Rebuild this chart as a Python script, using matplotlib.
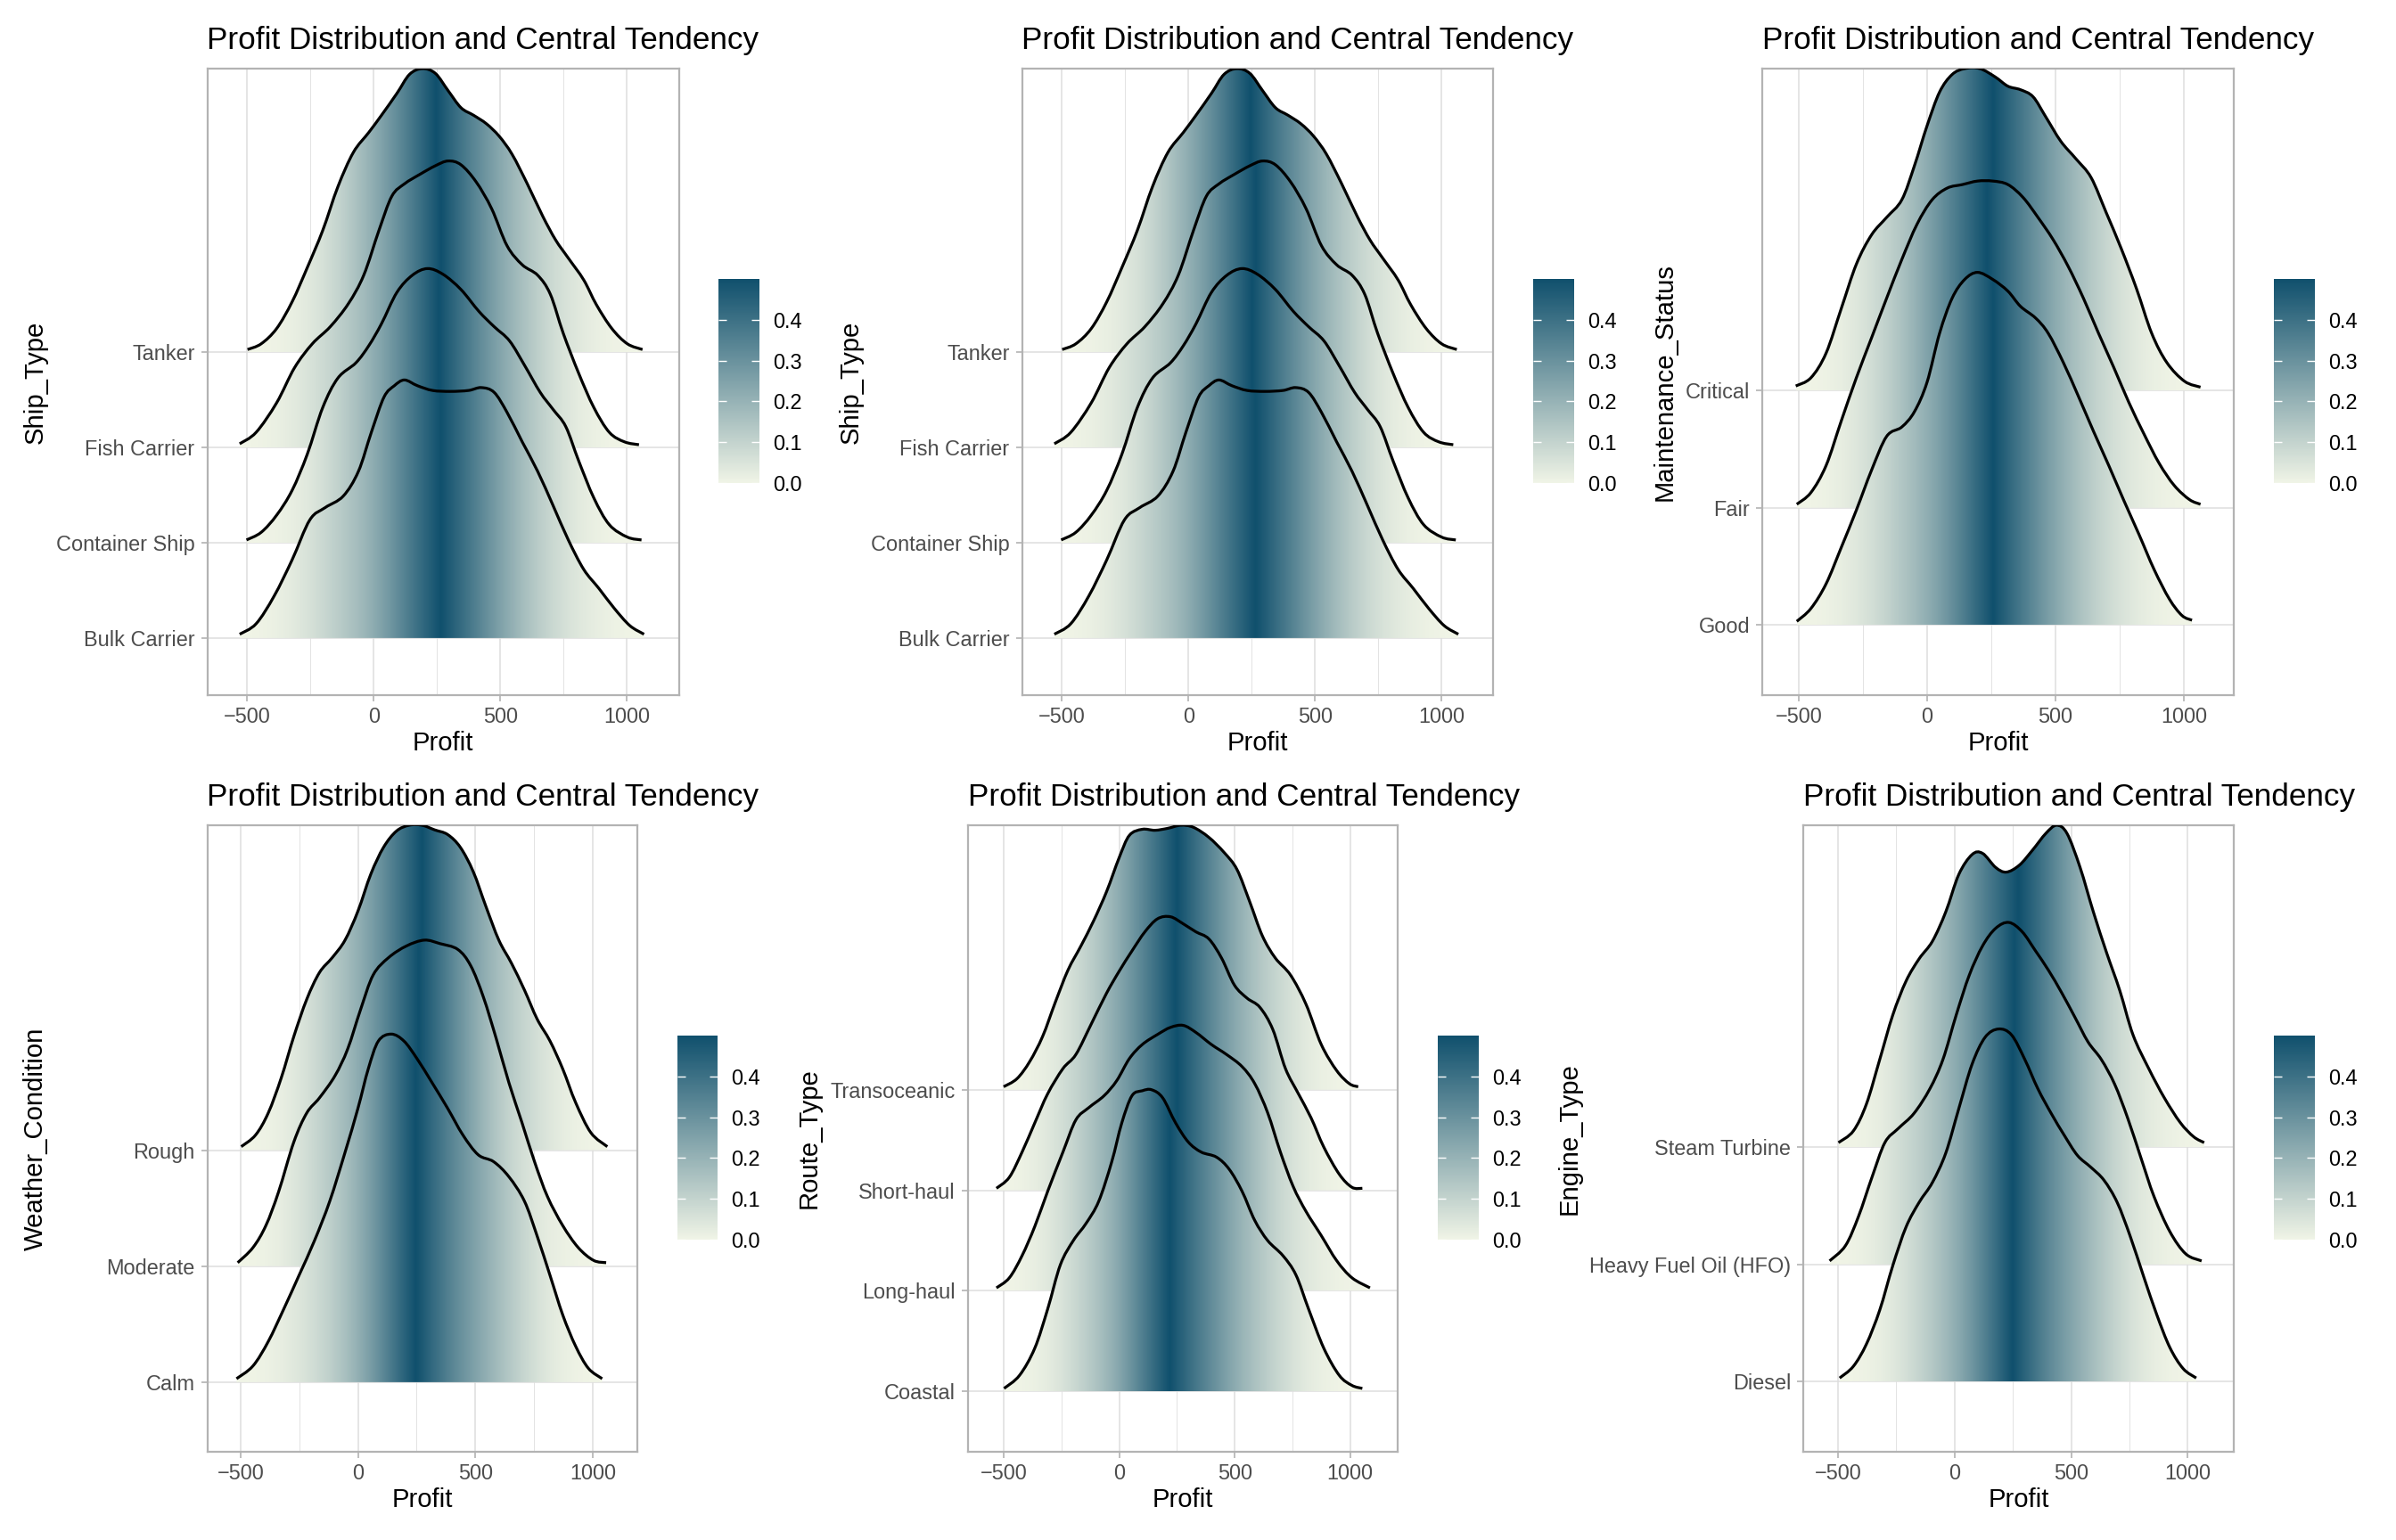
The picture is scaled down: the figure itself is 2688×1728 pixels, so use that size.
import numpy as np
import matplotlib
matplotlib.use("Agg")
import matplotlib.pyplot as plt
from matplotlib.path import Path
from matplotlib.patches import PathPatch
from matplotlib.colors import LinearSegmentedColormap, Normalize
from matplotlib.cm import ScalarMappable
from matplotlib.ticker import FormatStrFormatter

plt.rcParams["font.family"] = ["Liberation Sans", "DejaVu Sans"]

# ---- densities (profit, ridge height in row units) ----
ship_types = ["Bulk Carrier", "Container Ship", "Fish Carrier", "Tanker"]
ship_x = [
    [-530, -465, -394, -323, -253, -192, -121, -61, -10, 40, 81, 121, 172, 232, 303, 374, 424, 475, 526, 586, 647, 708, 768, 829, 889, 950, 1011, 1067],
    [-503, -445, -384, -323, -263, -202, -142, -71, -20, 30, 91, 152, 212, 273, 344, 415, 475, 536, 596, 657, 708, 758, 809, 869, 930, 1001, 1057],
    [-530, -465, -384, -313, -243, -172, -101, -40, 20, 71, 121, 182, 243, 293, 344, 404, 465, 526, 586, 647, 697, 748, 809, 869, 930, 990, 1047],
    [-499, -445, -384, -323, -263, -202, -142, -81, -20, 30, 91, 141, 192, 243, 293, 344, 394, 445, 495, 546, 606, 667, 718, 768, 829, 879, 940, 1001, 1061],
]
ship_h = [
    [0.04, 0.15, 0.44, 0.82, 1.24, 1.37, 1.49, 1.75, 2.16, 2.53, 2.65, 2.71, 2.65, 2.60, 2.59, 2.60, 2.63, 2.58, 2.37, 2.06, 1.75, 1.39, 1.03, 0.72, 0.52, 0.31, 0.13, 0.04],
    [0.03, 0.11, 0.29, 0.55, 0.93, 1.42, 1.73, 1.89, 2.07, 2.30, 2.63, 2.81, 2.88, 2.82, 2.66, 2.43, 2.27, 2.12, 1.86, 1.58, 1.40, 1.22, 0.86, 0.47, 0.19, 0.06, 0.03],
    [0.04, 0.16, 0.47, 0.84, 1.09, 1.27, 1.51, 1.81, 2.28, 2.64, 2.77, 2.87, 2.96, 3.01, 2.97, 2.79, 2.51, 2.12, 1.92, 1.81, 1.61, 1.20, 0.78, 0.42, 0.16, 0.06, 0.03],
    [0.03, 0.09, 0.25, 0.53, 0.89, 1.28, 1.74, 2.10, 2.31, 2.49, 2.72, 2.92, 2.98, 2.93, 2.75, 2.57, 2.49, 2.40, 2.27, 2.08, 1.77, 1.43, 1.18, 0.99, 0.76, 0.50, 0.25, 0.09, 0.03],
]

maint_status = ["Good", "Fair", "Critical"]
maint_x = [
    [-507, -452, -393, -334, -275, -216, -157, -98, -49, 0, 49, 98, 147, 197, 256, 315, 364, 423, 472, 531, 590, 649, 708, 767, 826, 885, 944, 993, 1032],
    [-507, -452, -393, -334, -275, -216, -157, -98, -39, 20, 79, 138, 197, 256, 315, 374, 432, 491, 550, 609, 668, 727, 786, 845, 904, 963, 1022, 1065],
    [-511, -452, -393, -334, -275, -216, -157, -98, -49, 0, 49, 98, 147, 206, 265, 315, 364, 413, 462, 521, 580, 639, 698, 757, 816, 875, 934, 1003, 1065],
]
maint_h = [
    [0.03, 0.14, 0.35, 0.66, 0.98, 1.32, 1.61, 1.69, 1.82, 2.07, 2.49, 2.79, 2.95, 3.01, 2.95, 2.85, 2.72, 2.62, 2.49, 2.24, 1.95, 1.65, 1.36, 1.06, 0.77, 0.47, 0.22, 0.08, 0.04],
    [0.03, 0.13, 0.36, 0.74, 1.11, 1.45, 1.79, 2.12, 2.42, 2.63, 2.73, 2.76, 2.79, 2.79, 2.76, 2.65, 2.48, 2.29, 2.06, 1.79, 1.49, 1.20, 0.90, 0.63, 0.38, 0.19, 0.07, 0.03],
    [0.04, 0.11, 0.32, 0.70, 1.08, 1.33, 1.48, 1.63, 1.92, 2.26, 2.55, 2.70, 2.75, 2.75, 2.68, 2.60, 2.57, 2.51, 2.34, 2.13, 1.98, 1.82, 1.52, 1.21, 0.87, 0.49, 0.24, 0.08, 0.03],
]

weather = ["Calm", "Moderate", "Rough"]
weather_x = [
    [-517, -447, -382, -316, -251, -185, -120, -55, 0, 44, 87, 142, 196, 251, 316, 382, 447, 512, 578, 643, 709, 763, 818, 872, 927, 981, 1040],
    [-512, -447, -392, -338, -273, -218, -164, -98, -44, 11, 65, 131, 207, 283, 349, 425, 480, 534, 589, 643, 698, 752, 807, 872, 938, 1003, 1057],
    [-497, -436, -382, -327, -273, -218, -164, -109, -55, 0, 55, 109, 164, 218, 273, 327, 382, 436, 491, 545, 600, 654, 709, 763, 818, 872, 927, 992, 1062],
]
weather_h = [
    [0.03, 0.14, 0.35, 0.63, 0.92, 1.22, 1.56, 1.98, 2.36, 2.70, 2.94, 3.00, 2.94, 2.79, 2.58, 2.36, 2.13, 1.96, 1.90, 1.77, 1.56, 1.26, 0.92, 0.58, 0.31, 0.12, 0.03],
    [0.03, 0.16, 0.35, 0.64, 1.07, 1.32, 1.45, 1.64, 1.87, 2.21, 2.51, 2.66, 2.76, 2.81, 2.78, 2.73, 2.59, 2.32, 1.96, 1.58, 1.24, 0.90, 0.60, 0.35, 0.16, 0.05, 0.03],
    [0.03, 0.13, 0.32, 0.62, 0.98, 1.30, 1.53, 1.66, 1.81, 2.06, 2.38, 2.61, 2.75, 2.80, 2.80, 2.76, 2.72, 2.61, 2.40, 2.10, 1.81, 1.61, 1.38, 1.13, 0.94, 0.70, 0.41, 0.15, 0.03],
]

routes = ["Coastal", "Long-haul", "Short-haul", "Transoceanic"]
route_x = [
    [-499, -432, -366, -310, -255, -199, -144, -89, -33, 11, 55, 100, 140, 188, 244, 299, 355, 421, 476, 532, 587, 643, 709, 765, 820, 886, 953, 1008, 1053],
    [-532, -476, -421, -366, -310, -244, -188, -133, -66, -11, 44, 100, 166, 222, 277, 332, 399, 465, 532, 587, 643, 698, 753, 809, 875, 942, 1008, 1086],
    [-532, -476, -421, -366, -310, -244, -188, -122, -55, 0, 55, 111, 166, 222, 277, 332, 388, 443, 499, 554, 609, 665, 720, 776, 831, 886, 953, 1008, 1053],
    [-501, -443, -388, -332, -277, -222, -166, -111, -55, 0, 44, 100, 155, 211, 266, 321, 388, 454, 510, 565, 620, 676, 742, 809, 875, 942, 997, 1035],
]
route_h = [
    [0.03, 0.16, 0.43, 0.82, 1.26, 1.50, 1.67, 1.89, 2.28, 2.67, 2.94, 2.99, 3.00, 2.92, 2.67, 2.48, 2.38, 2.33, 2.21, 1.99, 1.70, 1.50, 1.35, 1.16, 0.82, 0.43, 0.16, 0.06, 0.03],
    [0.03, 0.13, 0.35, 0.64, 0.99, 1.38, 1.70, 1.82, 1.94, 2.09, 2.31, 2.45, 2.55, 2.62, 2.64, 2.57, 2.45, 2.35, 2.23, 2.06, 1.77, 1.38, 1.04, 0.79, 0.55, 0.30, 0.13, 0.03],
    [0.02, 0.13, 0.38, 0.67, 0.96, 1.21, 1.35, 1.65, 1.96, 2.18, 2.38, 2.57, 2.70, 2.72, 2.65, 2.57, 2.50, 2.31, 2.04, 1.91, 1.82, 1.60, 1.21, 0.96, 0.72, 0.43, 0.16, 0.03, 0.02],
    [0.03, 0.11, 0.28, 0.53, 0.87, 1.19, 1.43, 1.68, 1.97, 2.31, 2.53, 2.59, 2.58, 2.60, 2.63, 2.61, 2.51, 2.36, 2.19, 1.87, 1.53, 1.31, 1.14, 0.85, 0.45, 0.19, 0.06, 0.03],
]

engines = ["Diesel", "Heavy Fuel Oil (HFO)", "Steam Turbine"]
engine_x = [
    [-493, -434, -378, -321, -265, -208, -152, -95, -38, 18, 75, 131, 188, 244, 301, 357, 414, 471, 527, 584, 640, 697, 753, 810, 867, 923, 980, 1036],
    [-536, -468, -412, -355, -299, -242, -174, -106, -50, 7, 63, 120, 176, 233, 290, 346, 403, 459, 516, 572, 629, 686, 742, 799, 855, 923, 991, 1059],
    [-498, -434, -378, -321, -265, -208, -152, -95, -38, 18, 75, 120, 176, 222, 278, 335, 391, 437, 482, 538, 595, 652, 708, 765, 833, 900, 968, 1025, 1070],
]
engine_h = [
    [0.03, 0.13, 0.32, 0.61, 0.99, 1.32, 1.53, 1.70, 1.95, 2.33, 2.71, 2.94, 3.01, 2.96, 2.75, 2.50, 2.29, 2.10, 1.93, 1.83, 1.72, 1.53, 1.24, 0.90, 0.57, 0.29, 0.11, 0.03],
    [0.03, 0.16, 0.41, 0.74, 1.04, 1.16, 1.29, 1.50, 1.75, 2.13, 2.47, 2.72, 2.87, 2.92, 2.84, 2.68, 2.51, 2.32, 2.11, 1.90, 1.75, 1.54, 1.25, 0.91, 0.58, 0.28, 0.09, 0.03],
    [0.04, 0.14, 0.37, 0.75, 1.13, 1.42, 1.61, 1.76, 2.01, 2.33, 2.50, 2.51, 2.39, 2.35, 2.41, 2.54, 2.68, 2.75, 2.68, 2.39, 2.01, 1.66, 1.34, 0.96, 0.67, 0.42, 0.21, 0.09, 0.04],
]

# ---- layout in pixels of the 2688x1728 canvas ----
W, H, DPI = 2688, 1728, 200
# (left, top, right, bottom, ylabel centre x, colorbar left, xlim)
layout = [
    (232.5, 77, 762, 780, 40, 806, (-658, 1206)),
    (1146.5, 77, 1675.5, 780, 955, 1720, (-658, 1206)),
    (1977, 77, 2506, 780, 1868, 2551, (-641.5, 1194.6)),
    (232.5, 926, 715, 1629, 40, 759.5, (-641.7, 1189.7)),
    (1085.5, 926, 1568, 1629, 907.5, 1613, (-657, 1206)),
    (2023, 926, 2506, 1629, 1761, 2551, (-649, 1197)),
]
panels = [
    (ship_types, ship_x, ship_h, "Ship_Type"),
    (ship_types, ship_x, ship_h, "Ship_Type"),
    (maint_status, maint_x, maint_h, "Maintenance_Status"),
    (weather, weather_x, weather_h, "Weather_Condition"),
    (routes, route_x, route_h, "Route_Type"),
    (engines, engine_x, engine_h, "Engine_Type"),
]

cmap = LinearSegmentedColormap.from_list("ridge", ["#F0F4E6", "#10506D"])
norm = Normalize(0, 0.5)
GRID = "#DEDEDE"
BORDER = "#B3B3B3"


def px_box(l, t, r, b):
    return [l / W, 1 - b / H, (r - l) / W, (b - t) / H]


def curve(xs, ys):
    # smooth bezier through the read points
    p = np.column_stack([xs, ys]).astype(float)
    n = len(p)
    verts, codes = [p[0]], [Path.MOVETO]
    for i in range(n - 1):
        p0, p1, p2, p3 = p[max(i - 1, 0)], p[i], p[i + 1], p[min(i + 2, n - 1)]
        verts += [p1 + (p2 - p0) / 6, p2 - (p3 - p1) / 6, p2]
        codes += [Path.CURVE4] * 3
    return verts, codes


fig = plt.figure(figsize=(W / DPI, H / DPI), dpi=DPI)

for (cats, xs_all, hs_all, ylab), (l, t, r, b, ylx, cbl, xlim) in zip(panels, layout):
    ax = fig.add_axes(px_box(l, t, r, b))
    n = len(cats)
    top = 0
    # top row first so lower ridges overlap the ones above
    for i in range(n - 1, -1, -1):
        xs = np.array(xs_all[i], float)
        hs = np.array(hs_all[i], float)
        base = i + 1
        top = max(top, base + hs.max())
        verts, codes = curve(xs, base + hs)
        fill_path = Path(verts + [(xs[-1], base), (xs[0], base), (xs[0], base)],
                         codes + [Path.LINETO, Path.LINETO, Path.CLOSEPOLY])
        patch = PathPatch(fill_path, facecolor="none", edgecolor="none")
        ax.add_patch(patch)
        # tail-probability fill from the ridge's own cumulative area
        cdf = np.concatenate([[0], np.cumsum(np.diff(xs) * (hs[1:] + hs[:-1]) / 2)])
        cdf /= cdf[-1]
        xf = np.linspace(xs[0], xs[-1], 800)
        tail = 0.5 - np.abs(0.5 - np.interp(xf, xs, cdf))
        z = 3 + (n - i) * 2
        im = ax.imshow(tail[None, :], extent=(xs[0], xs[-1], base, base + hs.max() + 0.05),
                       origin="lower", aspect="auto", cmap=cmap, norm=norm,
                       interpolation="bilinear", zorder=z)
        im.set_clip_path(patch)
        ax.add_patch(PathPatch(Path(verts, codes), facecolor="none", edgecolor="black",
                               lw=1.15, zorder=z + 1, capstyle="butt"))

    ax.set_xlim(*xlim)
    ax.set_ylim(0.4, top)
    ax.set_xticks([-500, 0, 500, 1000])
    ax.set_xticks([-250, 250, 750], minor=True)
    ax.set_yticks(range(1, n + 1))
    ax.set_yticklabels(cats)
    ax.set_axisbelow(True)
    ax.grid(True, which="major", color=GRID, lw=0.55)
    ax.grid(True, which="minor", axis="x", color=GRID, lw=0.3)
    ax.tick_params(which="major", length=2.6, width=0.6, color=BORDER, labelsize=8.45,
                   labelcolor="#4D4D4D")
    ax.tick_params(axis="x", pad=2.1)
    ax.tick_params(axis="y", pad=2.4)
    ax.tick_params(which="minor", length=0)
    for s in ax.spines.values():
        s.set_color(BORDER)
        s.set_linewidth(0.8)

    ax.set_title("Profit Distribution and Central Tendency", loc="left", fontsize=12.67,
                 pad=7.9, color="black")
    ax.set_xlabel("Profit", fontsize=10.56, va="center")
    ax.xaxis.set_label_coords(0.5, -54 / (b - t))
    ax.set_ylabel(ylab, fontsize=10.56, va="center")
    ax.yaxis.set_label_coords((ylx - l) / (r - l), 0.5)

    # colour bar, no title
    cb_top = t + 236
    cax = fig.add_axes(px_box(cbl, cb_top, cbl + 46, cb_top + 229))
    cb = fig.colorbar(ScalarMappable(norm=norm, cmap=cmap), cax=cax)
    cb.outline.set_visible(False)
    cb.set_ticks([0, 0.1, 0.2, 0.3, 0.4])
    cb.ax.yaxis.set_major_formatter(FormatStrFormatter("%.1f"))
    cb.ax.tick_params(direction="in", length=3.24, width=0.5, color="white",
                      left=True, right=True, labelleft=False, labelright=True,
                      labelsize=8.45, labelcolor="black", pad=5.3)

fig.savefig("out.png", dpi=DPI)
